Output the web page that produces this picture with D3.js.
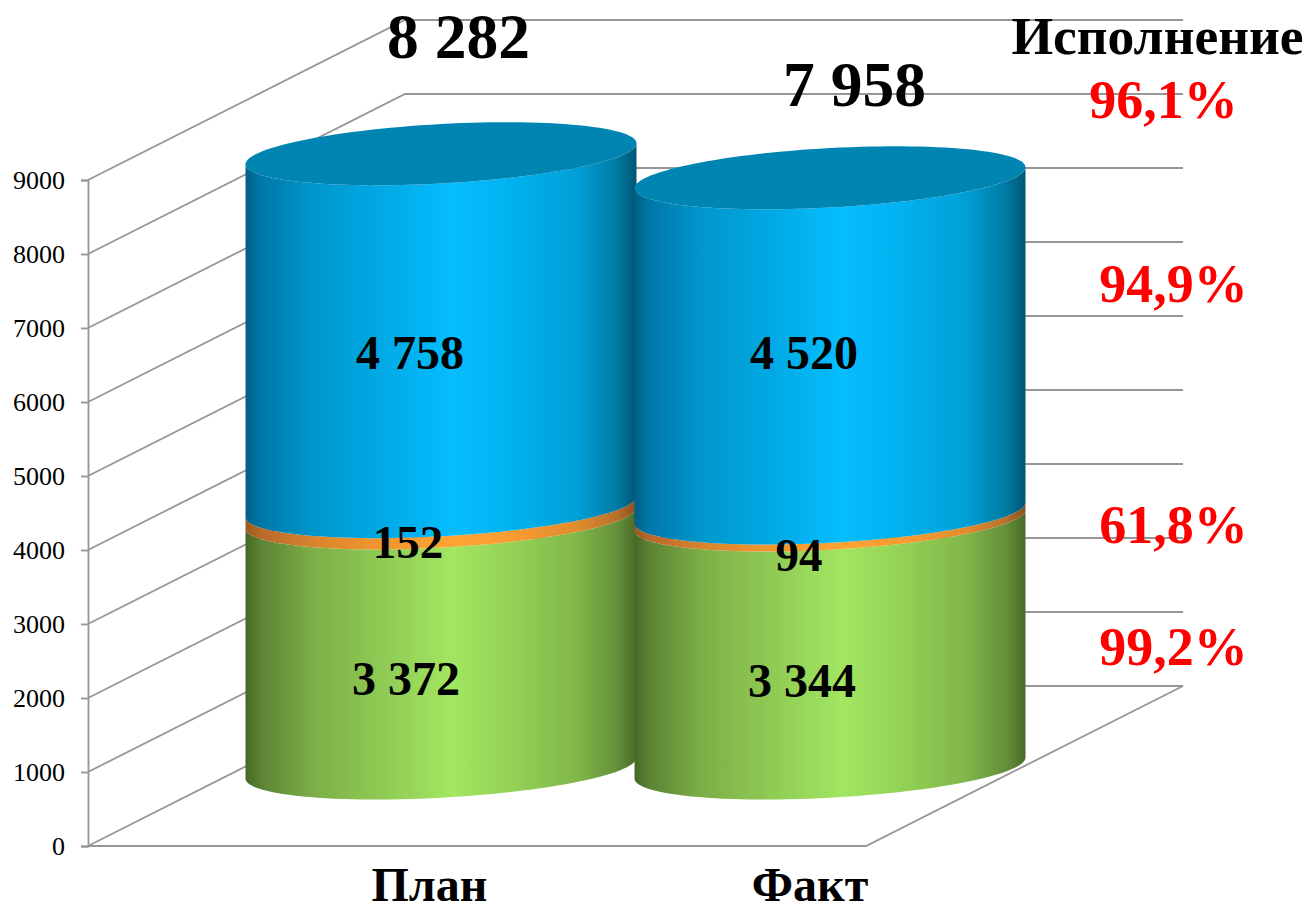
<!DOCTYPE html>
<html>
<head>
<meta charset="utf-8">
<script src="https://cdn.jsdelivr.net/npm/d3@7"></script>
<style>
body { margin: 0; background: #fff; }
text { font-family: "Liberation Serif", "Times New Roman", serif; }
</style>
</head>
<body>
<script>
// chart values
var categories = ["План", "Факт"];
var bottomValues = [3372, 3344];
var middleValues = [152, 94];
var topValues = [4758, 4520];
var bottomLabels = ["3 372", "3 344"];
var middleLabels = ["152", "94"];
var topLabels = ["4 758", "4 520"];
var totalLabels = ["8 282", "7 958"];
var yTicks = [0, 1000, 2000, 3000, 4000, 5000, 6000, 7000, 8000, 9000];
var percentLabels = ["96,1%", "94,9%", "61,8%", "99,2%"];
var percentTitle = "Исполнение";

// svg dimension variables
var w = 1308, h = 907;
var depthX = 317, depthY = 160; // shift from the front of the floor to the back wall
var left = 88, right = 866, bottom = 846, top9000 = 180;

var svg = d3.select("body").append("svg")
    .attr("width", w)
    .attr("height", h)
    .style("display", "block");

var y = d3.scaleLinear().domain([0, 9000]).range([bottom, top9000]);
var x = d3.scaleBand().domain(categories).range([left, right]);
// cylinders stand mid way into the floor
var yCylinder = d3.scaleLinear().domain([0, 9000]).range([768, 100.5]);

// gradients for the cylinder sides
var defs = svg.append("defs");
function addGradient(id, stops) {
    var g = defs.append("linearGradient").attr("id", id);
    g.selectAll("stop").data(stops).enter().append("stop")
        .attr("offset", function(d){ return d[0]; })
        .attr("stop-color", function(d){ return d[1]; });
}
addGradient("blue", [[0, "#005f85"], [0.04, "#0078a8"], [0.17, "#0096cc"], [0.32, "#00a6e0"], [0.53, "#06bdff"], [0.68, "#01b2ef"], [0.85, "#009fd6"], [0.95, "#007aa3"], [1, "#005675"]]);
addGradient("orange", [[0, "#9a5a1e"], [0.04, "#b8692a"], [0.17, "#d8842d"], [0.32, "#ee9430"], [0.53, "#ffa333"], [0.68, "#f79c31"], [0.85, "#e08c2e"], [0.95, "#b8702a"], [1, "#85501f"]]);
addGradient("green", [[0, "#466726"], [0.04, "#5c8434"], [0.17, "#7cae46"], [0.32, "#8cc652"], [0.53, "#a2e661"], [0.68, "#94d256"], [0.85, "#80b649"], [0.95, "#64903a"], [1, "#4b6a29"]]);

// walls: left wall lines run back, then along the back wall
var wallLine = d3.line();
var grid = svg.append("g").attr("class", "grid");
grid.selectAll("path")
    .data(yTicks)
    .enter()
    .append("path")
    .attr("d", function(d){
        return wallLine([[left, y(d)], [left + depthX, y(d) - depthY], [right + depthX, y(d) - depthY]]);
    })
    .attr("fill", "none")
    .attr("stroke", "#969696")
    .attr("stroke-width", 1.8);

// floor
svg.append("path")
    .attr("d", wallLine([[left, bottom], [right, bottom], [right + depthX, bottom - depthY]]))
    .attr("fill", "none")
    .attr("stroke", "#969696")
    .attr("stroke-width", 1.8);

// y axis
var yAxis = d3.axisLeft(y).tickValues(yTicks).tickSize(7).tickPadding(16).tickFormat(d3.format("d"));
var axis = svg.append("g")
    .attr("class", "axis")
    .attr("transform", "translate(" + left + ",0)")
    .call(yAxis);
axis.selectAll("line").attr("stroke", "#969696").attr("stroke-width", 1.8);
axis.select(".domain").attr("stroke", "#969696").attr("stroke-width", 1.8);
axis.selectAll("text")
    .attr("font-family", "Liberation Serif")
    .attr("font-size", 26)
    .attr("fill", "#000");

// cylinders, tilted ellipse given by a half width, half height and slope
var radiusX = 195.5, radiusY = 29.7, slope = 10.5;
var centerOffset = depthX / 2;

function rimPoint(cx, cy, t) {
    return [cx + radiusX * Math.cos(t), cy - slope * Math.cos(t) + radiusY * Math.sin(t)];
}
function frontRim(cx, cy) {
    // from the left end, along the front, to the right end
    return d3.range(0, 61).map(function(i){ return rimPoint(cx, cy, Math.PI - i * Math.PI / 60); });
}
function fullRim(cx, cy) {
    return d3.range(0, 121).map(function(i){ return rimPoint(cx, cy, i * Math.PI / 60); });
}

var line = d3.line();
var seriesList = [
    {values: bottomValues, color: "green"},
    {values: middleValues, color: "orange"},
    {values: topValues, color: "blue"}
];

categories.forEach(function(cat, i){
    var cx = x(cat) + x.bandwidth() / 2 + centerOffset;
    var sum = 0;
    var g = svg.append("g").attr("class", "cylinder");
    seriesList.forEach(function(s){
        var y0 = yCylinder(sum);
        sum += s.values[i];
        var y1 = yCylinder(sum);
        var pts = frontRim(cx, y0).concat(frontRim(cx, y1).reverse());
        g.append("path")
            .attr("d", line(pts) + "Z")
            .attr("fill", "url(#" + s.color + ")");
    });
    g.append("path")
        .attr("d", line(fullRim(cx, yCylinder(sum))) + "Z")
        .attr("fill", "#0085b3");
});

// labels, text first, then where it sits
function addText(str, tx, ty, size, color) {
    svg.append("text")
        .attr("x", tx)
        .attr("y", ty)
        .attr("text-anchor", "middle")
        .attr("font-size", size)
        .attr("font-weight", "bold")
        .attr("fill", color || "#000")
        .text(str);
}

topLabels.forEach(function(d, i){ addText(d, [410, 804][i], 369, 48); });
middleLabels.forEach(function(d, i){ addText(d, [408, 799][i], [558, 571][i], 47); });
bottomLabels.forEach(function(d, i){ addText(d, [406, 802][i], [695, 697][i], 48); });
totalLabels.forEach(function(d, i){ addText(d, [458.5, 854.5][i], [58, 106][i], 63.5); });
categories.forEach(function(d, i){ addText(d, [429.5, 810][i], 901, 48); });

addText(percentTitle, 1157.5, 54, 53.5);
percentLabels.forEach(function(d, i){
    addText(d, [1163.5, 1173.5, 1173.5, 1173.5][i], [118, 302, 543, 665][i], 54, "#ff0000");
});
</script>
</body>
</html>
